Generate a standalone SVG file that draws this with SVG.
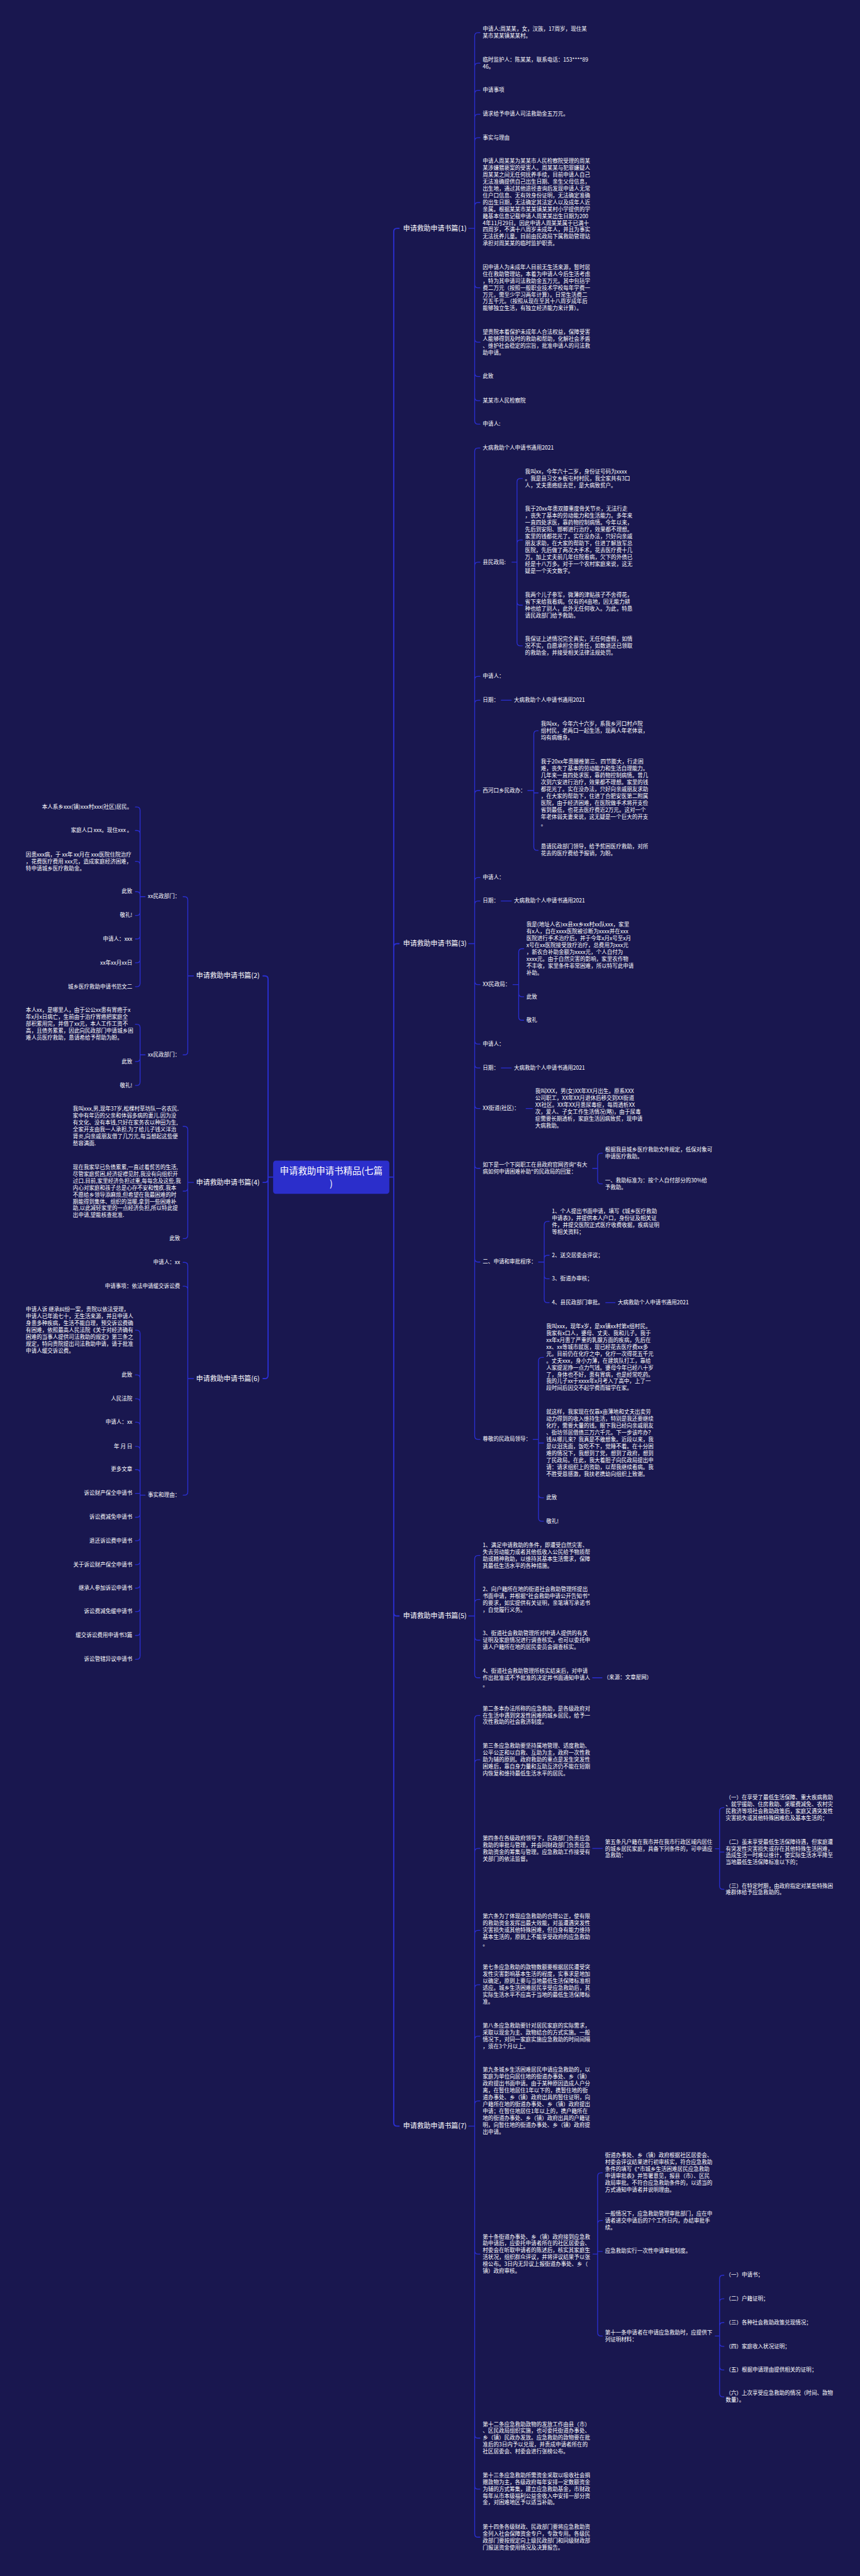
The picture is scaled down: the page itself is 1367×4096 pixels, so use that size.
<svg xmlns="http://www.w3.org/2000/svg" width="1367" height="4096" viewBox="0 0 1367 4096">
<style>
text{font-family:"Noto Sans CJK SC","Noto Sans",sans-serif;font-size:16px;fill:#fff}
.b{font-size:20.5px}
.r{font-size:27px;text-anchor:middle}
.e{text-anchor:end}
.c{fill:none;stroke:#2a2fd3;stroke-width:2.5;stroke-linecap:round}
.k{stroke-width:3.5}
</style>
<rect width="1367" height="4096" fill="#19174f"/>
<g transform="scale(0.533984)">
<g id="connectors">
<path class="c k" d="M1159 3505H1172M1172 3505V690Q1172 680 1182 680H1188M1172 3505V2820Q1172 2810 1182 2810H1188M1172 3505V4802Q1172 4812 1182 4812H1188M1172 3505V6321Q1172 6331 1182 6331H1188M813 3505H798M798 3505V2916Q798 2906 788 2906H783M798 3505V3511Q798 3521 788 3521H783M798 3505V4095Q798 4105 788 4105H783"/>
<path class="c" d="M1395 680H1413M1413 680V107Q1413 97 1423 97H1429M1413 680V198Q1413 188 1423 188H1429M1413 680V279Q1413 269 1423 269H1429M1413 680V350Q1413 340 1423 340H1429M1413 680V420Q1413 410 1423 410H1429M1413 680V613Q1413 603 1423 603H1429M1413 680V847Q1413 857 1423 857H1429M1413 680V1009Q1413 1019 1423 1019H1429M1413 680V1111Q1413 1121 1423 1121H1429M1413 680V1183Q1413 1193 1423 1193H1429M1413 680V1253Q1413 1263 1423 1263H1429"/>
<path class="c" d="M1395 2810H1413M1413 2810V1344Q1413 1334 1423 1334H1429M1413 2810V1684Q1413 1674 1423 1674H1429M1413 2810V2024Q1413 2014 1423 2014H1429M1413 2810V2095Q1413 2085 1423 2085H1429M1413 2810V2364Q1413 2354 1423 2354H1429M1413 2810V2623Q1413 2613 1423 2613H1429M1413 2810V2693Q1413 2683 1423 2683H1429M1413 2810V2922Q1413 2932 1423 2932H1429M1413 2810V3099Q1413 3109 1423 3109H1429M1413 2810V3170Q1413 3180 1423 3180H1429M1413 2810V3291Q1413 3301 1423 3301H1429M1413 2810V3469Q1413 3479 1423 3479H1429M1413 2810V3748Q1413 3758 1423 3758H1429M1413 2810V4276Q1413 4286 1423 4286H1429"/>
<path class="c" d="M1395 4812H1413M1413 4812V4642Q1413 4632 1423 4632H1429M1413 4812V4773Q1413 4763 1423 4763H1429M1413 4812V4874Q1413 4884 1423 4884H1429M1413 4812V4986Q1413 4996 1423 4996H1429"/>
<path class="c" d="M1395 6331H1413M1413 6331V5118Q1413 5108 1423 5108H1429M1413 6331V5250Q1413 5240 1423 5240H1429M1413 6331V5514Q1413 5504 1423 5504H1429M1413 6331V5758Q1413 5748 1423 5748H1429M1413 6331V5920Q1413 5910 1423 5910H1429M1413 6331V6073Q1413 6063 1423 6063H1429M1413 6331V6266Q1413 6256 1423 6256H1429M1413 6331V6702Q1413 6712 1423 6712H1429M1413 6331V7250Q1413 7260 1423 7260H1429M1413 6331V7402Q1413 7412 1423 7412H1429M1413 6331V7545Q1413 7555 1423 7555H1429"/>
<path class="c" d="M1524 1674H1539M1539 1674V1435Q1539 1425 1549 1425H1555M1539 1674V1618Q1539 1608 1549 1608H1555M1539 1674V1792Q1539 1802 1549 1802H1555M1539 1674V1913Q1539 1923 1549 1923H1555"/>
<path class="c" d="M1492 2085H1522M1492 2683H1522M1492 3180H1522M1566 3301H1585M1803 3879H1831M1764 4996H1792M1764 5504H1793"/>
<path class="c" d="M1571 2354H1589M1589 2354V2186Q1589 2176 1599 2176H1602M1589 2354V2361H1602M1589 2354V2522Q1589 2532 1599 2532H1602"/>
<path class="c" d="M1527 2932H1544M1544 2932V2835Q1544 2825 1554 2825H1559M1544 2932V2958Q1544 2968 1554 2968H1559M1544 2932V3028Q1544 3038 1554 3038H1559"/>
<path class="c" d="M1764 3479H1779M1779 3479V3444Q1779 3434 1789 3434H1793M1779 3479V3515Q1779 3525 1789 3525H1793"/>
<path class="c" d="M1603 3758H1620M1620 3758V3647Q1620 3637 1630 3637H1635M1620 3758V3748Q1620 3738 1630 3738H1635M1620 3758V3798Q1620 3808 1630 3808H1635M1620 3758V3869Q1620 3879 1630 3879H1635"/>
<path class="c" d="M1587 4286H1603M1603 4286V4052Q1603 4042 1613 4042H1618M1603 4286V4297H1618M1603 4286V4450Q1603 4460 1613 4460H1618M1603 4286V4520Q1603 4530 1613 4530H1618"/>
<path class="c" d="M2129 5505H2142M2142 5505V5393Q2142 5383 2152 5383H2155M2142 5505V5515H2155M2142 5505V5616Q2142 5626 2152 5626H2155"/>
<path class="c" d="M1765 6712H1779M1779 6712V6480Q1779 6470 1789 6470H1793M1779 6712V6622Q1779 6612 1789 6612H1793M1779 6712V6704H1793M1779 6712V6946Q1779 6956 1789 6956H1793"/>
<path class="c" d="M2129 6956H2142M2142 6956V6785Q2142 6775 2152 6775H2155M2142 6956V6855Q2142 6845 2152 6845H2155M2142 6956V6926Q2142 6916 2152 6916H2155M2142 6956V6977Q2142 6987 2152 6987H2155M2142 6956V7047Q2142 7057 2152 7057H2155M2142 6956V7127Q2142 7137 2152 7137H2155"/>
<path class="c" d="M576 2906H559M559 2906V2680Q559 2670 549 2670H545M559 2906V3131Q559 3141 549 3141H545"/>
<path class="c" d="M432 2670H417M417 2670V2413Q417 2403 407 2403H403M417 2670V2483Q417 2473 407 2473H403M417 2670V2575Q417 2565 407 2565H403M417 2670V2665Q417 2655 407 2655H403M417 2670V2716Q417 2726 407 2726H403M417 2670V2786Q417 2796 407 2796H403M417 2670V2857Q417 2867 407 2867H403M417 2670V2928Q417 2938 407 2938H403"/>
<path class="c" d="M432 3141H417M417 3141V3060Q417 3050 407 3050H403M417 3141V3151Q417 3161 407 3161H403M417 3141V3222Q417 3232 407 3232H403"/>
<path class="c" d="M576 3521H559M559 3521V3364Q559 3354 549 3354H545M559 3521V3537Q559 3547 549 3547H545M559 3521V3678Q559 3688 549 3688H545"/>
<path class="c" d="M576 4105H559M559 4105V3769Q559 3759 549 3759H545M559 4105V3840Q559 3830 549 3830H545M559 4105V4442Q559 4452 549 4452H545"/>
<path class="c" d="M432 4452H417M417 4452V3971Q417 3961 407 3961H403M417 4452V4104Q417 4094 407 4094H403M417 4452V4175Q417 4165 407 4165H403M417 4452V4245Q417 4235 407 4235H403M417 4452V4317Q417 4307 407 4307H403M417 4452V4386Q417 4376 407 4376H403M417 4452V4447H403M417 4452V4508Q417 4518 407 4518H403M417 4452V4578Q417 4588 407 4588H403M417 4452V4649Q417 4659 407 4659H403M417 4452V4719Q417 4729 407 4729H403M417 4452V4789Q417 4799 407 4799H403M417 4452V4860Q417 4870 407 4870H403M417 4452V4931Q417 4941 407 4941H403"/>
</g>
<g id="root"><rect x="813" y="3456" width="346" height="99" rx="8" fill="#2b2ecb"/><text class="r" x="986" y="3496">申请救助申请书精品(七篇</text><text class="r" x="986" y="3533">)</text></g>
<g id="b1"><text class="b" x="1200" y="687">申请救助申请书篇(1)</text></g>
<g id="b3"><text class="b" x="1200" y="2817">申请救助申请书篇(3)</text></g>
<g id="b5"><text class="b" x="1200" y="4819">申请救助申请书篇(5)</text></g>
<g id="b7"><text class="b" x="1200" y="6338">申请救助申请书篇(7)</text></g>
<g id="b2"><text class="b e" x="773" y="2913">申请救助申请书篇(2)</text></g>
<g id="b4"><text class="b e" x="773" y="3528">申请救助申请书篇(4)</text></g>
<g id="b6"><text class="b e" x="773" y="4112">申请救助申请书篇(6)</text></g>
<g id="p1-1"><text x="1437" y="92">申请人:周某某，女，汉族，17周岁，现住某<tspan x="1437" dy="20.5">某市某某镇某某村。</tspan></text></g>
<g id="p1-2"><text x="1437" y="183">临时监护人：陈某某，联系电话：153****89<tspan x="1437" dy="20.5">46。</tspan></text></g>
<g id="p1-3"><text x="1437" y="274">申请事项</text></g>
<g id="p1-4"><text x="1437" y="345">请求给予申请人司法救助金五万元。</text></g>
<g id="p1-5"><text x="1437" y="415">事实与理由</text></g>
<g id="p1-6"><text x="1437" y="485">申请人周某某为某某市人民检察院受理的周某<tspan x="1437" dy="20.5">某涉嫌猥亵案的受害人。周某某与犯罪嫌疑人</tspan><tspan x="1437" dy="20.5">周某某之间无任何抚养手续，目前申请人自己</tspan><tspan x="1437" dy="20.5">无法准确提供自己出生日期、亲生父母信息，</tspan><tspan x="1437" dy="20.5">出生地，通过其他途径查询后发现申请人无常</tspan><tspan x="1437" dy="20.5">住户口信息、无有效身份证明，无法确定准确</tspan><tspan x="1437" dy="20.5">的出生日期，无法确定其法定人以及成年人近</tspan><tspan x="1437" dy="20.5">亲属。根据某某市某某镇某某村小学提供的学</tspan><tspan x="1437" dy="20.5">籍基本信息记载申请人周某某出生日期为200</tspan><tspan x="1437" dy="20.5">4年11月29日。因此申请人周某某属于已满十</tspan><tspan x="1437" dy="20.5">四周岁，不满十八周岁未成年人，并且为事实</tspan><tspan x="1437" dy="20.5">无法抚养儿童。目前由民政局下属救助管理站</tspan><tspan x="1437" dy="20.5">承担对周某某的临时监护职责。</tspan></text></g>
<g id="p1-7"><text x="1437" y="801">因申请人为未成年人目前无生活来源，暂时居<tspan x="1437" dy="20.5">住在救助管理站，本着为申请人今后生活考虑</tspan><tspan x="1437" dy="20.5">，特为其申请司法救助金五万元。其中包括学</tspan><tspan x="1437" dy="20.5">费二万元（按照一般职业技术学校每年学费一</tspan><tspan x="1437" dy="20.5">万元，需至少学习两年计算）。日常生活费二</tspan><tspan x="1437" dy="20.5">万五千元。（按照从现在至其十八周岁成年后</tspan><tspan x="1437" dy="20.5">能够独立生活，有独立经济能力来计算）。</tspan></text></g>
<g id="p1-8"><text x="1437" y="994">望贵院本着保护未成年人合法权益，保障受害<tspan x="1437" dy="20.5">人能够得到及时的救助和帮助，化解社会矛盾</tspan><tspan x="1437" dy="20.5">、维护社会稳定的宗旨，批准申请人的司法救</tspan><tspan x="1437" dy="20.5">助申请。</tspan></text></g>
<g id="p1-9"><text x="1437" y="1126">此致</text></g>
<g id="p1-10"><text x="1437" y="1198">某某市人民检察院</text></g>
<g id="p1-11"><text x="1437" y="1268">申请人:</text></g>
<g id="p3-1"><text x="1437" y="1339">大病救助个人申请书通用2021</text></g>
<g id="p3-2"><text x="1437" y="1679">县民政局:</text></g>
<g id="p3-2a"><text x="1563" y="1410">我叫xx，今年六十二岁，身份证号码为xxxx<tspan x="1563" dy="20.5">。我是县习文乡板屯村村民，我全家共有3口</tspan><tspan x="1563" dy="20.5">人，丈夫患癌症去世，是大病致贫户。</tspan></text></g>
<g id="p3-2b"><text x="1563" y="1521">我于20xx年患双膝重度骨关节炎，无法行走<tspan x="1563" dy="20.5">，丧失了基本的劳动能力和生活能力。多年来</tspan><tspan x="1563" dy="20.5">一直四处求医，靠药物控制病情。今年以来，</tspan><tspan x="1563" dy="20.5">先后到安阳、邯郸进行治疗，效果都不理想。</tspan><tspan x="1563" dy="20.5">家里的钱都花光了。实在没办法，只好向亲戚</tspan><tspan x="1563" dy="20.5">朋友求助，在大家的帮助下，住进了解放军总</tspan><tspan x="1563" dy="20.5">医院，先后做了两次大手术，花去医疗费十几</tspan><tspan x="1563" dy="20.5">万。加上丈夫前几年住院看病，欠下的外债已</tspan><tspan x="1563" dy="20.5">经是十八万多。对于一个农村家庭来说，这无</tspan><tspan x="1563" dy="20.5">疑是一个天文数字。</tspan></text></g>
<g id="p3-2c"><text x="1563" y="1777">我两个儿子参军，微薄的津贴孩子不舍得花，<tspan x="1563" dy="20.5">省下来给我看病。仅有的4亩地，因无能力耕</tspan><tspan x="1563" dy="20.5">种也给了别人，此外无任何收入。为此，特恳</tspan><tspan x="1563" dy="20.5">请民政部门给予救助。</tspan></text></g>
<g id="p3-2d"><text x="1563" y="1908">我保证上述情况完全真实，无任何虚假，如情<tspan x="1563" dy="20.5">况不实，自愿承担全部责任，如数退还已领取</tspan><tspan x="1563" dy="20.5">的救助金，并接受相关法律法规处罚。</tspan></text></g>
<g id="p3-3"><text x="1437" y="2019">申请人：</text></g>
<g id="p3-4"><text x="1437" y="2090">日期：</text></g>
<g id="p3-4a"><text x="1530" y="2090">大病救助个人申请书通用2021</text></g>
<g id="p3-5"><text x="1437" y="2359">西河口乡民政办：</text></g>
<g id="p3-5a"><text x="1610" y="2161">我叫xx，今年六十六岁，系我乡河口村卢院<tspan x="1610" dy="20.5">组村民，老两口一起生活，现两人年老体衰，</tspan><tspan x="1610" dy="20.5">均有病缠身。</tspan></text></g>
<g id="p3-5b"><text x="1610" y="2274">我于20xx年患腰椎第三、四节膨大，行走困<tspan x="1610" dy="20.5">难，丧失了基本的劳动能力和生活自理能力。</tspan><tspan x="1610" dy="20.5">几年来一直四处求医，靠药物控制病情。曾几</tspan><tspan x="1610" dy="20.5">次到六安进行治疗，效果都不理想。家里的钱</tspan><tspan x="1610" dy="20.5">都花光了。实在没办法，只好向亲戚朋友求助</tspan><tspan x="1610" dy="20.5">，在大家的帮助下，住进了合肥安医第二附属</tspan><tspan x="1610" dy="20.5">医院，由于经济困难，在医院做手术将开支俭</tspan><tspan x="1610" dy="20.5">省到最低，也花去医疗费近2万元。这对一个</tspan><tspan x="1610" dy="20.5">年老体弱夫妻来说，这无疑是一个巨大的开支</tspan><tspan x="1610" dy="20.5">。</tspan></text></g>
<g id="p3-5c"><text x="1610" y="2527">恳请民政部门领导，给予贫困医疗救助，对所<tspan x="1610" dy="20.5">花去的医疗费给予报销，为盼。</tspan></text></g>
<g id="p3-6"><text x="1437" y="2618">申请人：</text></g>
<g id="p3-7"><text x="1437" y="2688">日期：</text></g>
<g id="p3-7a"><text x="1530" y="2688">大病救助个人申请书通用2021</text></g>
<g id="p3-8"><text x="1437" y="2937">XX民政局：</text></g>
<g id="p3-8a"><text x="1567" y="2759">我是(地址人名)xx县xx乡xx村xx队xxx，家里<tspan x="1567" dy="20.5">有x人，自在xxxx医院被诊断为xxxx并在xxx</tspan><tspan x="1567" dy="20.5">医院进行手术治疗后，并于今年x月x号至x月</tspan><tspan x="1567" dy="20.5">x号在xx医院接受放疗治疗，总费用为xxx元</tspan><tspan x="1567" dy="20.5">，新农合补助金额为xxxx元，个人自付为</tspan><tspan x="1567" dy="20.5">xxxx元。由于自然灾害的影响，家里农作物</tspan><tspan x="1567" dy="20.5">不丰收，家里条件非常困难，所以特写此申请</tspan><tspan x="1567" dy="20.5">补助。</tspan></text></g>
<g id="p3-8b"><text x="1567" y="2973">此致</text></g>
<g id="p3-8c"><text x="1567" y="3043">敬礼</text></g>
<g id="p3-9"><text x="1437" y="3114">申请人：</text></g>
<g id="p3-10"><text x="1437" y="3185">日期：</text></g>
<g id="p3-10a"><text x="1530" y="3185">大病救助个人申请书通用2021</text></g>
<g id="p3-11"><text x="1437" y="3306">XX街道(社区)：</text></g>
<g id="p3-11a"><text x="1593" y="3255">我叫XXX，男(女)XX年XX月出生。原系XXX<tspan x="1593" dy="20.5">公司职工，XX年XX月退休后移交到XX街道</tspan><tspan x="1593" dy="20.5">XX社区。XX年XX月患尿毒症，每周透析XX</tspan><tspan x="1593" dy="20.5">次，爱人、子女工作生活情况(略)，由于尿毒</tspan><tspan x="1593" dy="20.5">症需要长期透析，家庭生活因病致贫，现申请</tspan><tspan x="1593" dy="20.5">大病救助。</tspan></text></g>
<g id="p3-12"><text x="1437" y="3474">如下是一个下岗职工在县政府官网咨询"有大<tspan x="1437" dy="20.5">病如何申请困难补助"的民政局的回复：</tspan></text></g>
<g id="p3-12a"><text x="1801" y="3429">根据我县城乡医疗救助文件规定，低保对象可<tspan x="1801" dy="20.5">申请医疗救助。</tspan></text></g>
<g id="p3-12b"><text x="1801" y="3520">一、救助标准为：按个人自付部分的30%给<tspan x="1801" dy="20.5">予救助。</tspan></text></g>
<g id="p3-13"><text x="1437" y="3763">二、申请和审批程序：</text></g>
<g id="p3-13a"><text x="1643" y="3612">1、个人提出书面申请，填写《城乡医疗救助<tspan x="1643" dy="20.5">申请表》，并提供本人户口，身份证及相关证</tspan><tspan x="1643" dy="20.5">件，并提交医院正式医疗收费收据，疾病证明</tspan><tspan x="1643" dy="20.5">等相关资料；</tspan></text></g>
<g id="p3-13b"><text x="1643" y="3743">2、送交居委会评议；</text></g>
<g id="p3-13c"><text x="1643" y="3813">3、街道办审核；</text></g>
<g id="p3-13d"><text x="1643" y="3884">4、县民政部门审批。</text></g>
<g id="p3-13e"><text x="1839" y="3884">大病救助个人申请书通用2021</text></g>
<g id="p3-14"><text x="1437" y="4291">尊敬的民政局领导：</text></g>
<g id="p3-14a"><text x="1626" y="3955">我叫xxx，现年x岁，是xx镇xx村第x组村民。<tspan x="1626" dy="20.5">我家有x口人，婆母、丈夫、我和儿子。我于</tspan><tspan x="1626" dy="20.5">xx年x月患了严重的乳腺方面的疾病，先后在</tspan><tspan x="1626" dy="20.5">xx、xx等城市就医，现已经花去医疗费xx多</tspan><tspan x="1626" dy="20.5">元。目前仍在化疗之中，化疗一次得花五千元</tspan><tspan x="1626" dy="20.5">。丈夫xxx，身小力薄，在建筑队打工，靠给</tspan><tspan x="1626" dy="20.5">人家提泥挣一点力气钱。婆母今年已经八十岁</tspan><tspan x="1626" dy="20.5">了，身体也不好，患有胃病，也是经常吃药。</tspan><tspan x="1626" dy="20.5">我的儿子xx于xxxx年x月考入了高中，上了一</tspan><tspan x="1626" dy="20.5">段时间后因交不起学费而辍学在家。</tspan></text></g>
<g id="p3-14b"><text x="1626" y="4210">就这样，我家现在仅靠x亩薄地和丈夫出卖劳<tspan x="1626" dy="20.5">动力得到的收入维持生活，特别是我还要继续</tspan><tspan x="1626" dy="20.5">化疗，需要大量的钱。眼下我已经向亲戚朋友</tspan><tspan x="1626" dy="20.5">、街坊邻居借债三万六千元。下一步该咋办？</tspan><tspan x="1626" dy="20.5">钱从哪儿来？我真是不敢想象。近段以来，我</tspan><tspan x="1626" dy="20.5">是以泪洗面，饭吃不下，觉睡不着。在十分困</tspan><tspan x="1626" dy="20.5">难的情况下，我想到了党，想到了政府，想到</tspan><tspan x="1626" dy="20.5">了民政局。在此，我大着胆子向民政局提出申</tspan><tspan x="1626" dy="20.5">请：请求组织上的资助，以帮我继续看病。我</tspan><tspan x="1626" dy="20.5">不胜受恩感激，我扶老携幼向组织上致谢。</tspan></text></g>
<g id="p3-14c"><text x="1626" y="4465">此致</text></g>
<g id="p3-14d"><text x="1626" y="4535">敬礼!</text></g>
<g id="p5-1"><text x="1437" y="4607">1、满足申请救助的条件，即遭受自然灾害、<tspan x="1437" dy="20.5">失去劳动能力或者其他低收入公民给予物质帮</tspan><tspan x="1437" dy="20.5">助或精神救助，以维持其基本生活需求，保障</tspan><tspan x="1437" dy="20.5">其最低生活水平的各种措施。</tspan></text></g>
<g id="p5-2"><text x="1437" y="4738">2、向户籍所在地的街道社会救助管理所提出<tspan x="1437" dy="20.5">书面申请，并根据"社会救助申请公开告知书"</tspan><tspan x="1437" dy="20.5">的要求，如实提供有关证明，亲笔填写承诺书</tspan><tspan x="1437" dy="20.5">，自觉履行义务。</tspan></text></g>
<g id="p5-3"><text x="1437" y="4869">3、街道社会救助管理所对申请人提供的有关<tspan x="1437" dy="20.5">证明及家庭情况进行调查核实，也可以委托申</tspan><tspan x="1437" dy="20.5">请人户籍所在地的居民委员会调查核实。</tspan></text></g>
<g id="p5-4"><text x="1437" y="4981">4、街道社会救助管理所核实结束后，对申请<tspan x="1437" dy="20.5">作出批准或不予批准的决定并书面通知申请人</tspan><tspan x="1437" dy="20.5">。</tspan></text></g>
<g id="p5-4a"><text x="1797" y="5001">（来源：文章屋网）</text></g>
<g id="p7-1"><text x="1437" y="5093">第二条本办法所称的应急救助，是各级政府对<tspan x="1437" dy="20.5">在生活中遇到突发性困难的城乡居民，给予一</tspan><tspan x="1437" dy="20.5">次性救助的社会救济制度。</tspan></text></g>
<g id="p7-2"><text x="1437" y="5204">第三条应急救助要坚持属地管理、适度救助、<tspan x="1437" dy="20.5">公平公正和以自救、互助为主，政府一次性救</tspan><tspan x="1437" dy="20.5">助为辅的原则。政府救助的重点是发生突发性</tspan><tspan x="1437" dy="20.5">困难后，靠自身力量和互助互济仍不能在短期</tspan><tspan x="1437" dy="20.5">内恢复和维持最低生活水平的居民。</tspan></text></g>
<g id="p7-3"><text x="1437" y="5479">第四条在各级政府领导下，民政部门负责应急<tspan x="1437" dy="20.5">救助的审批与管理，并会同财政部门负责应急</tspan><tspan x="1437" dy="20.5">救助资金的筹集与管理。应急救助工作接受有</tspan><tspan x="1437" dy="20.5">关部门的依法监督。</tspan></text></g>
<g id="p7-3a"><text x="1801" y="5490">第五条凡户籍在我市并在我市行政区域内居住<tspan x="1801" dy="20.5">的城乡居民家庭，具备下列条件的，可申请应</tspan><tspan x="1801" dy="20.5">急救助：</tspan></text></g>
<g id="p7-3a1"><text x="2160" y="5358">（一）在享受了最低生活保障、重大疾病救助<tspan x="2160" dy="20.5">、就学援助、住房救助、采暖费减免、农村灾</tspan><tspan x="2160" dy="20.5">民救济等项社会救助政策后，家庭又遇突发性</tspan><tspan x="2160" dy="20.5">灾害损失或其他特殊困难危及基本生活的；</tspan></text></g>
<g id="p7-3a2"><text x="2160" y="5490">（二）虽未享受最低生活保障待遇，但家庭遭<tspan x="2160" dy="20.5">有突发性灾害损失或存在其他特殊生活困难，</tspan><tspan x="2160" dy="20.5">造成生活一时难以维计，使实际生活水平降至</tspan><tspan x="2160" dy="20.5">当地最低生活保障标准以下的；</tspan></text></g>
<g id="p7-3a3"><text x="2160" y="5621">（三）在特定时期，由政府指定对某些特殊困<tspan x="2160" dy="20.5">难群体给予应急救助的。</tspan></text></g>
<g id="p7-4"><text x="1437" y="5712">第六条为了体现应急救助的合理公正，使有限<tspan x="1437" dy="20.5">的救助资金发挥出最大效能，对虽遭遇突发性</tspan><tspan x="1437" dy="20.5">灾害损失或其他特殊困难，但自身有能力维持</tspan><tspan x="1437" dy="20.5">基本生活的，原则上不能享受政府的应急救助</tspan><tspan x="1437" dy="20.5">。</tspan></text></g>
<g id="p7-5"><text x="1437" y="5864">第七条应急救助的款物数额要根据居民遭受突<tspan x="1437" dy="20.5">发性灾害影响基本生活的程度，实事求是地加</tspan><tspan x="1437" dy="20.5">以确定，原则上要与当地最低生活保障标准相</tspan><tspan x="1437" dy="20.5">适应。城乡生活困难居民享受应急救助后，其</tspan><tspan x="1437" dy="20.5">实际生活水平不应高于当地的最低生活保障标</tspan><tspan x="1437" dy="20.5">准。</tspan></text></g>
<g id="p7-6"><text x="1437" y="6038">第八条应急救助要针对居民家庭的实际需求，<tspan x="1437" dy="20.5">采取以现金为主、款物结合的方式实施。一般</tspan><tspan x="1437" dy="20.5">情况下，对同一家庭实施应急救助的时间间隔</tspan><tspan x="1437" dy="20.5">，须在3个月以上。</tspan></text></g>
<g id="p7-7"><text x="1437" y="6169">第九条城乡生活困难居民申请应急救助的，以<tspan x="1437" dy="20.5">家庭为单位向居住地的街道办事处、乡（镇）</tspan><tspan x="1437" dy="20.5">政府提出书面申请。由于某种原因造成人户分</tspan><tspan x="1437" dy="20.5">离，在暂住地居住1年以下的，携暂住地的街</tspan><tspan x="1437" dy="20.5">道办事处、乡（镇）政府出具的暂住证明，向</tspan><tspan x="1437" dy="20.5">户籍所在地的街道办事处、乡（镇）政府提出</tspan><tspan x="1437" dy="20.5">申请；在暂住地居住1年以上的，携户籍所在</tspan><tspan x="1437" dy="20.5">地的街道办事处、乡（镇）政府出具的户籍证</tspan><tspan x="1437" dy="20.5">明，向暂住地的街道办事处、乡（镇）政府提</tspan><tspan x="1437" dy="20.5">出申请。</tspan></text></g>
<g id="p7-8"><text x="1437" y="6666">第十条街道办事处、乡（镇）政府接到应急救<tspan x="1437" dy="20.5">助申请后，应委托申请者所在的社区居委会、</tspan><tspan x="1437" dy="20.5">村委会在听取申请者的陈述后，核实其家庭生</tspan><tspan x="1437" dy="20.5">活状况，组织群众评议，并将评议结果予以张</tspan><tspan x="1437" dy="20.5">榜公布。3日内无异议上报街道办事处、乡（</tspan><tspan x="1437" dy="20.5">镇）政府审核。</tspan></text></g>
<g id="p7-8a"><text x="1801" y="6424">街道办事处、乡（镇）政府根据社区居委会、<tspan x="1801" dy="20.5">村委会评议结果进行初审核实，符合应急救助</tspan><tspan x="1801" dy="20.5">条件的填写《*市城乡生活困难居民应急救助</tspan><tspan x="1801" dy="20.5">申请审批表》并签署意见，报县（市）、区民</tspan><tspan x="1801" dy="20.5">政局审批。不符合应急救助条件的，以适当的</tspan><tspan x="1801" dy="20.5">方式通知申请者并说明理由。</tspan></text></g>
<g id="p7-8b"><text x="1801" y="6597">一般情况下，应急救助管理审批部门，应在申<tspan x="1801" dy="20.5">请者递交申请后的7个工作日内，办结审批手</tspan><tspan x="1801" dy="20.5">续。</tspan></text></g>
<g id="p7-8c"><text x="1801" y="6709">应急救助实行一次性申请审批制度。</text></g>
<g id="p7-8d"><text x="1801" y="6951">第十一条申请者在申请应急救助时，应提供下<tspan x="1801" dy="20.5">列证明材料：</tspan></text></g>
<g id="p7-8d1"><text x="2160" y="6780">（一）申请书；</text></g>
<g id="p7-8d2"><text x="2160" y="6850">（二）户籍证明；</text></g>
<g id="p7-8d3"><text x="2160" y="6921">（三）各种社会救助政策兑现情况；</text></g>
<g id="p7-8d4"><text x="2160" y="6992">（四）家庭收入状况证明；</text></g>
<g id="p7-8d5"><text x="2160" y="7062">（五）根据申请理由提供相关的证明；</text></g>
<g id="p7-8d6"><text x="2160" y="7132">（六）上次享受应急救助的情况（时间、款物<tspan x="2160" dy="20.5">数量）。</tspan></text></g>
<g id="p7-9"><text x="1437" y="7224">第十二条应急救助款物的发放工作由县（市）<tspan x="1437" dy="20.5">、区民政局组织实施，也可委托街道办事处、</tspan><tspan x="1437" dy="20.5">乡（镇）民政办发放。应急救助的款物要在批</tspan><tspan x="1437" dy="20.5">准后的3日内予以兑现，并责成申请者所在的</tspan><tspan x="1437" dy="20.5">社区居委会、村委会进行张榜公布。</tspan></text></g>
<g id="p7-10"><text x="1437" y="7376">第十三条应急救助所需资金采取以吸收社会捐<tspan x="1437" dy="20.5">赠款物为主，各级政府每年安排一定数额资金</tspan><tspan x="1437" dy="20.5">为辅的方式筹集，建立应急救助基金，市财政</tspan><tspan x="1437" dy="20.5">每年从市本级福利公益金收入中安排一部分资</tspan><tspan x="1437" dy="20.5">金，对困难地区予以适当补助。</tspan></text></g>
<g id="p7-11"><text x="1437" y="7530">第十四条各级财政、民政部门要将应急救助资<tspan x="1437" dy="20.5">金列入社会保障资金专户，专款专用。各级民</tspan><tspan x="1437" dy="20.5">政部门要按规定向上级民政部门和同级财政部</tspan><tspan x="1437" dy="20.5">门报送资金使用情况及决算报告。</tspan></text></g>
<g id="p2-1"><text class="e" x="536" y="2675">xx民政部门：</text></g>
<g id="p2-1a"><text class="e" x="394" y="2408">本人系乡xxx(镇)xxx村xxx(社区)居民。</text></g>
<g id="p2-1b"><text class="e" x="394" y="2478">家庭人口 xxx。现住xxx 。</text></g>
<g id="p2-1c"><text x="77" y="2550">因患xxx病，于 xx年 xx月在 xxx医院住院治疗<tspan x="77" dy="20.5">，花费医疗费用 xxx元，造成家庭经济困难，</tspan><tspan x="77" dy="20.5">特申请城乡医疗救助金。</tspan></text></g>
<g id="p2-1d"><text class="e" x="394" y="2660">此致</text></g>
<g id="p2-1e"><text class="e" x="394" y="2731">敬礼!</text></g>
<g id="p2-1f"><text class="e" x="394" y="2801">申请人：xxx</text></g>
<g id="p2-1g"><text class="e" x="394" y="2872">xx年xx月xx日</text></g>
<g id="p2-1h"><text class="e" x="394" y="2943">城乡医疗救助申请书范文二</text></g>
<g id="p2-2"><text class="e" x="536" y="3146">xx民政部门：</text></g>
<g id="p2-2a"><text x="77" y="3014">本人xx，是哪里人，由于公公xx患有胃癌于x<tspan x="77" dy="20.5">年x月x日病亡，生前由于治疗胃癌把家庭全</tspan><tspan x="77" dy="20.5">部积累用完，并借了xx元，本人工作工资不</tspan><tspan x="77" dy="20.5">高，且债务累累，因此向民政部门申请城乡困</tspan><tspan x="77" dy="20.5">难人员医疗救助，恳请希给予帮助为盼。</tspan></text></g>
<g id="p2-2b"><text class="e" x="394" y="3166">此致</text></g>
<g id="p2-2c"><text class="e" x="394" y="3237">敬礼!</text></g>
<g id="p4-1"><text x="217" y="3308">我叫xxx,男,现年37岁,松棵村草坊队一名农民.<tspan x="217" dy="20.5">家中有年迈的父亲和体弱多病的妻儿.因为没</tspan><tspan x="217" dy="20.5">有文化、没有本钱,只好在家务农以种田为生,</tspan><tspan x="217" dy="20.5">全家开支由我一人承担.为了给儿子钱义洋治</tspan><tspan x="217" dy="20.5">肾炎,向亲戚朋友借了几万元,每当想起这些便</tspan><tspan x="217" dy="20.5">愁容满面.</tspan></text></g>
<g id="p4-2"><text x="217" y="3481">现在我家早已负债累累,一直过着贫苦的生活,<tspan x="217" dy="20.5">尽管家庭贫困,经济捉襟见肘,我没有向组织开</tspan><tspan x="217" dy="20.5">过口.目前,家里经济负担过重,每每念及这些,我</tspan><tspan x="217" dy="20.5">内心对家庭和孩子总是心存不安和愧疚.我本</tspan><tspan x="217" dy="20.5">不愿给乡领导添麻烦,但希望在我最困难的时</tspan><tspan x="217" dy="20.5">期能得到集体、组织的温暖,拿到一些困难补</tspan><tspan x="217" dy="20.5">助,以此减轻家里的一点经济负担,所以特此提</tspan><tspan x="217" dy="20.5">出申请,望能核查批准.</tspan></text></g>
<g id="p4-3"><text class="e" x="536" y="3693">此致</text></g>
<g id="p6-1"><text class="e" x="536" y="3764">申请人：xx</text></g>
<g id="p6-2"><text class="e" x="536" y="3835">申请事项：依法申请缓交诉讼费</text></g>
<g id="p6-3"><text class="e" x="536" y="4457">事实和理由：</text></g>
<g id="p6-3a"><text x="77" y="3905">申请人诉 继承纠纷一案，贵院以依法受理，<tspan x="77" dy="20.5">申请人已年逾七十，无生活来源，并且申请人</tspan><tspan x="77" dy="20.5">身患多种疾病，生活不能自理，预交诉讼费确</tspan><tspan x="77" dy="20.5">有困难，依照最高人民法院《关于对经济确有</tspan><tspan x="77" dy="20.5">困难的当事人提供司法救助的规定》第三条之</tspan><tspan x="77" dy="20.5">规定，特向贵院提出司法救助申请，请于批准</tspan><tspan x="77" dy="20.5">申请人缓交诉讼费。</tspan></text></g>
<g id="p6-3b"><text class="e" x="394" y="4099">此致</text></g>
<g id="p6-3c"><text class="e" x="394" y="4170">人民法院</text></g>
<g id="p6-3d"><text class="e" x="394" y="4240">申请人：xx</text></g>
<g id="p6-3e"><text class="e" x="394" y="4312">年 月 日</text></g>
<g id="p6-3f"><text class="e" x="394" y="4381">更多文章</text></g>
<g id="p6-3g"><text class="e" x="394" y="4452">诉讼财产保全申请书</text></g>
<g id="p6-3h"><text class="e" x="394" y="4523">诉讼费减免申请书</text></g>
<g id="p6-3i"><text class="e" x="394" y="4593">退还诉讼费申请书</text></g>
<g id="p6-3j"><text class="e" x="394" y="4664">关于诉讼财产保全申请书</text></g>
<g id="p6-3k"><text class="e" x="394" y="4734">继承人参加诉讼申请书</text></g>
<g id="p6-3l"><text class="e" x="394" y="4804">诉讼费减免缓申请书</text></g>
<g id="p6-3m"><text class="e" x="394" y="4875">缓交诉讼费用申请书3篇</text></g>
<g id="p6-3n"><text class="e" x="394" y="4946">诉讼管辖异议申请书</text></g>
</g>
</svg>
